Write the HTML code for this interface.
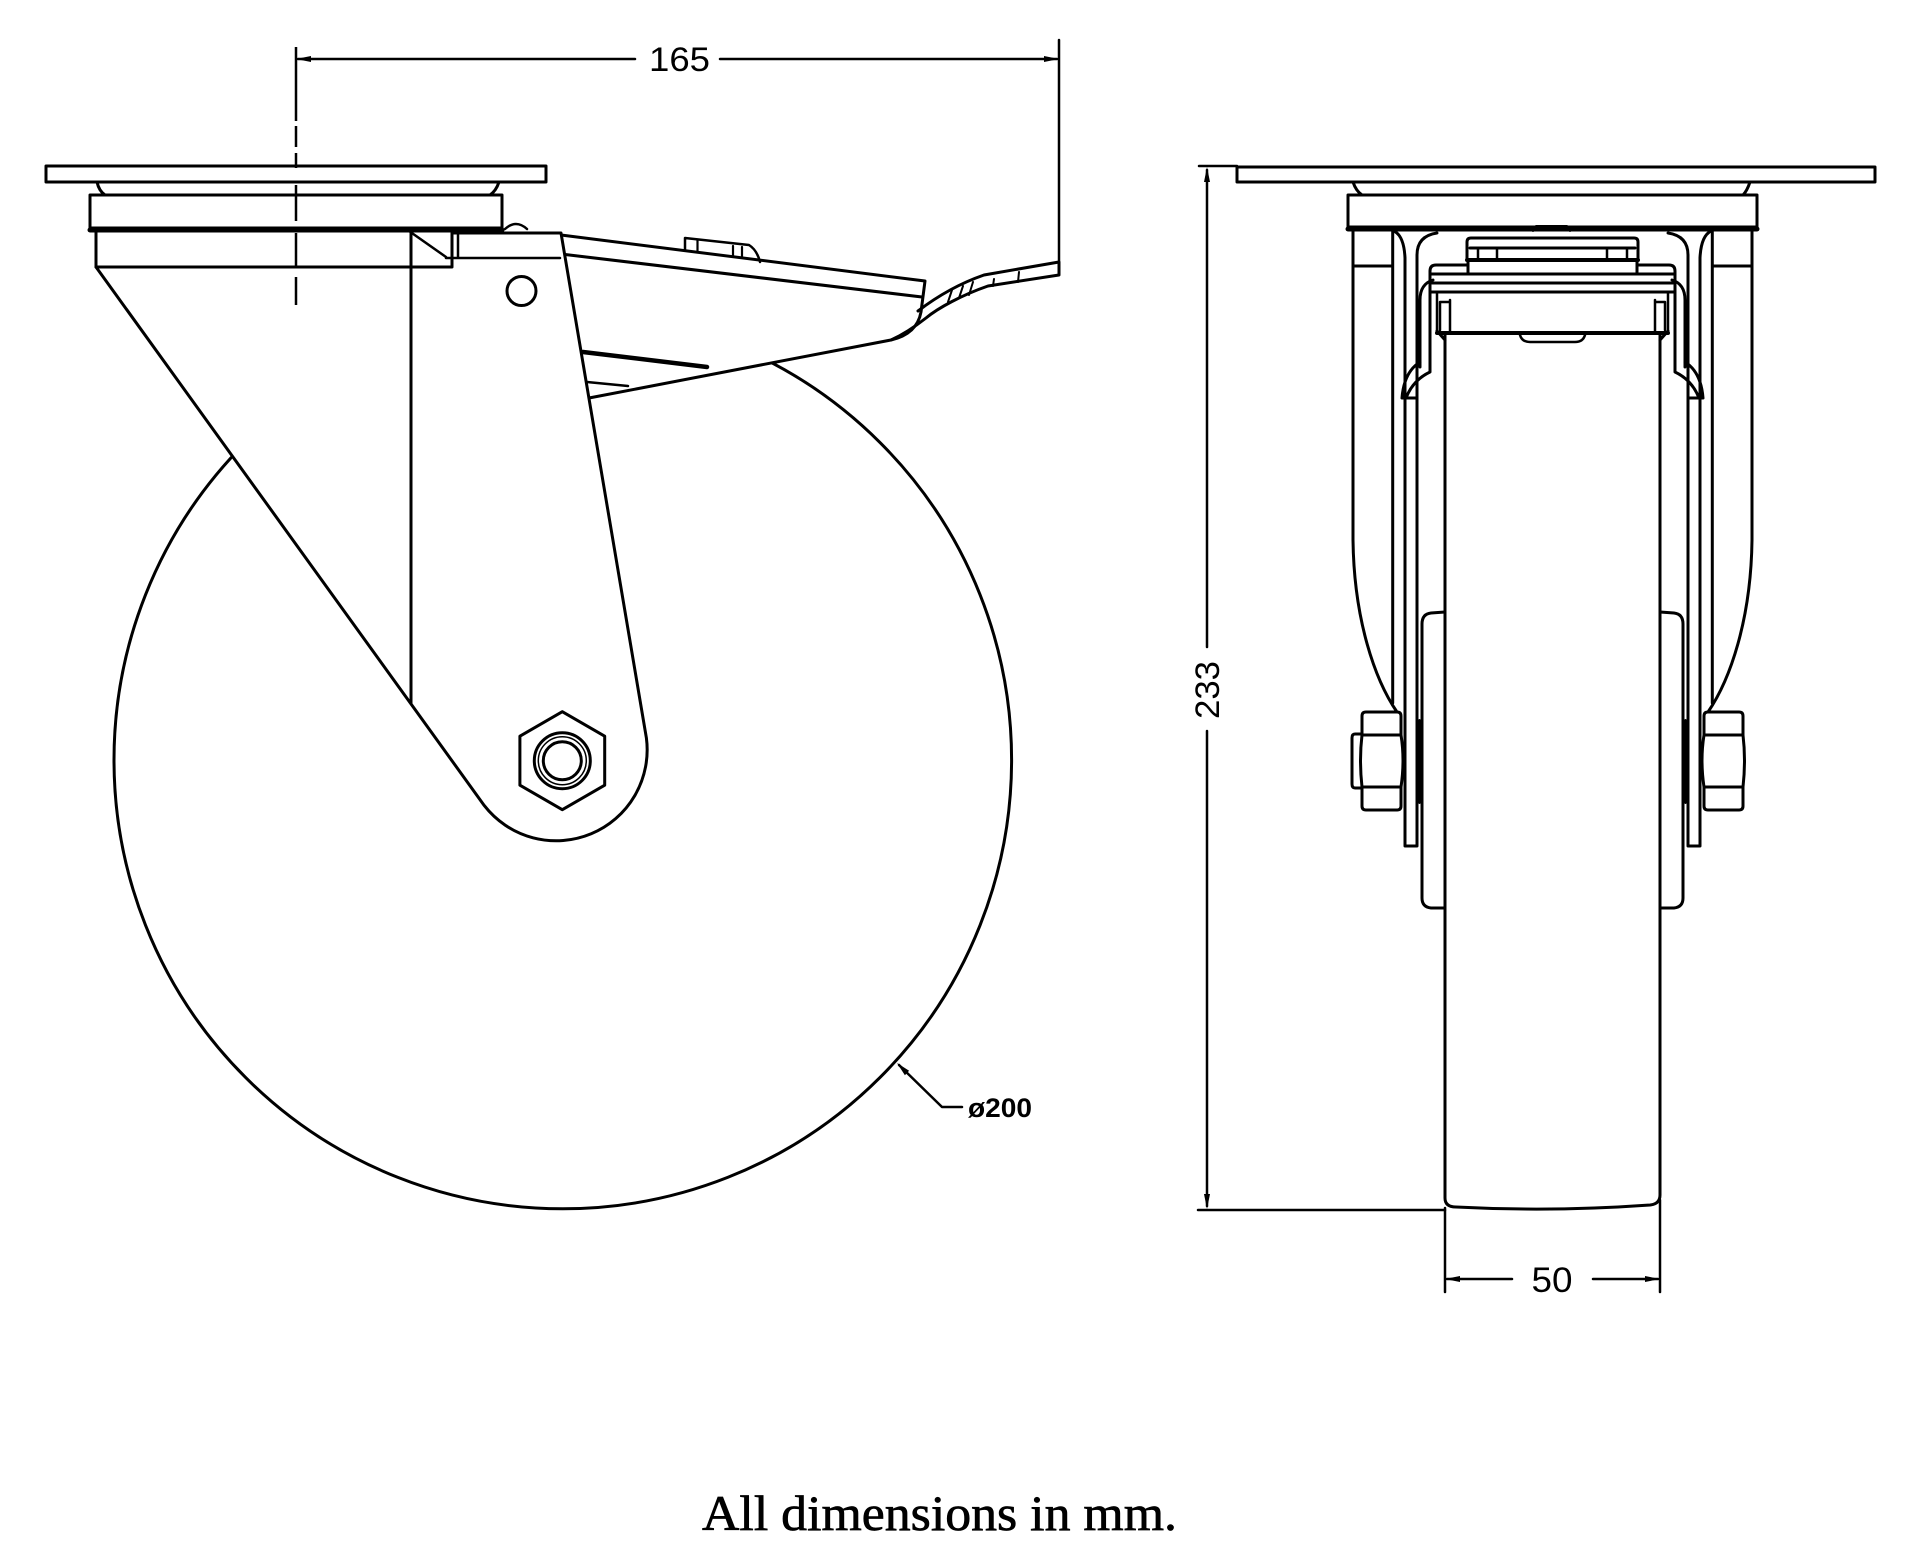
<!DOCTYPE html>
<html><head><meta charset="utf-8"><style>
html,body{margin:0;padding:0;background:#fff;}
svg{display:block;}
</style></head><body>
<svg width="1920" height="1541" viewBox="0 0 1920 1541" xmlns="http://www.w3.org/2000/svg">
<rect x="0" y="0" width="1920" height="1541" fill="#fff"/>
<g fill="none" stroke="#000" stroke-width="3" stroke-linejoin="round" stroke-linecap="round">

<!-- ================= LEFT VIEW ================= -->
<!-- wheel -->
<circle cx="562.8" cy="760" r="448.8"/>

<!-- pedal body -->
<path d="M561,235 L925,281 L921,312 Q917,334 891,340 L589,398 L560,398 Z" fill="#fff"/>
<path d="M561,254 L922,297"/>
<!-- pedal tab -->
<path d="M685,250 L685,238 L749,245 Q757,250 760,262" stroke-width="2.5"/>
<path d="M697.5,240 L697.5,251 M733,246 L733,256 M742,247 L742,257" stroke-width="2.2"/>
<!-- toe -->
<path d="M918,311 C935,298 958,284 984,275 L1059,262 L1059,275 L988,286 C962,295 938,308 926,318 C912,329 902,335 891,340"/>
<path d="M952,290 L948,302 M963,286 L959,298 M973,282 L969,295 M994,279 L993,286 M1019,272 L1018,282" stroke-width="2"/>
<!-- ribs under pedal -->
<path d="M583,352 L707,367" stroke-width="4.5"/>
<path d="M587,382 L628,386" stroke-width="2.5"/>

<!-- fork -->
<path d="M96,267 L452,267 L452,233 L561,233 L646.4,738 A91,91 0 0 1 484.3,805.6 Z" fill="#fff"/>
<line x1="411" y1="231" x2="411" y2="703"/>
<!-- notch / small parts -->
<path d="M409,231 L446,257" stroke-width="2.5"/>
<path d="M458,233 L458,258 M446,258 L560,258" stroke-width="2.5"/>
<!-- hole -->
<circle cx="521.5" cy="291" r="14.5"/>
<!-- axle nut -->
<polygon points="562.3,711.7 604.7,736.2 604.7,785.2 562.3,809.7 519.9,785.2 519.9,736.2" fill="#fff"/>
<circle cx="562.3" cy="760.7" r="28"/>
<circle cx="562.3" cy="760.7" r="24" stroke-width="1.5"/>
<circle cx="562.3" cy="760.7" r="19"/>

<!-- plate + ring -->
<rect x="46" y="166" width="500" height="16" fill="#fff"/>
<path d="M97,182 Q99,191 105,195 M499,182 Q496,191 490,195"/>
<rect x="90" y="195" width="412" height="33" fill="#fff"/>
<line x1="90" y1="230" x2="502" y2="230" stroke-width="5"/>
<path d="M96,232 L96,267"/>
<path d="M505,229 Q516,219 527,229" stroke-width="2.5"/>

<!-- centre line -->
<g stroke-width="2.5" stroke-linecap="butt">
<line x1="296" y1="47" x2="296" y2="121"/>
<line x1="296" y1="126" x2="296" y2="147"/>
<line x1="296" y1="153" x2="296" y2="168"/>
<line x1="296" y1="185" x2="296" y2="221"/>
<line x1="296" y1="233" x2="296" y2="267"/>
<line x1="296" y1="277" x2="296" y2="305"/>
</g>

<!-- dimension 165 -->
<g stroke-width="2.5">
<line x1="298" y1="59" x2="635" y2="59"/>
<line x1="720" y1="59" x2="1057" y2="59"/>
<line x1="1059" y1="40" x2="1059" y2="275"/>
</g>
<polygon points="296,59 311,56 311,62" fill="#000" stroke="none"/>
<polygon points="1059,59 1044,56 1044,62" fill="#000" stroke="none"/>

<!-- Ø200 leader -->
<path d="M899,1065 L942,1107 L962,1107" stroke-width="2.5"/>
<polygon points="897,1063 904.9,1075.2 909.1,1070.8" fill="#000" stroke="none"/>

<!-- ================= RIGHT VIEW ================= -->
<!-- tire -->
<path d="M1445,333 L1445,1198 Q1445,1207 1456,1207 Q1552,1212 1650,1205 Q1660,1204 1660,1195 L1660,333"/>
<line x1="1437" y1="333" x2="1668" y2="333" stroke-width="4"/>
<path d="M1520,335 Q1522,342 1530,342 L1575,342 Q1583,342 1585,335" stroke-width="2.5"/>

<!-- symmetric half -->
<g id="rh">
<path d="M1353,231 L1353,540 C1354,620 1375,680 1397,712"/>
<line x1="1353" y1="266" x2="1392" y2="266"/>
<line x1="1392.7" y1="231" x2="1392.7" y2="703"/>
<path d="M1394,231 Q1404,236 1405,258 L1405,846 L1417,846 L1417,255 Q1417,236 1437,233"/>
<path d="M1433,280 Q1420,284 1420,300 L1420,367"/>
<path d="M1430,292 L1430,372 Q1413,380 1406,398"/>
<path d="M1420,362 Q1404,372 1402,398 L1417,398"/>
<path d="M1437,292 L1437,333 M1450,300 L1450,333 M1440,302 L1440,330 M1440,302 L1450,302" stroke-width="2.5"/>
<path d="M1437,331 L1445,340" stroke-width="3"/>
<path d="M1445,612 L1431,613 Q1422,614 1422,624 L1422,898 Q1422,907 1431,908 L1445,908"/>
<line x1="1419.5" y1="720" x2="1419.5" y2="803" stroke-width="2"/>
<path d="M1366,712 L1397,712 Q1401,712 1401,716 L1401,735 Q1405,760 1401,787 L1401,806 Q1401,810 1397,810 L1366,810 Q1362,810 1362,806 L1362,787 Q1359,760 1362,735 L1362,716 Q1362,712 1366,712 Z" fill="#fff"/>
<path d="M1362,735 L1401,735 M1362,787 L1401,787"/>
</g>
<use href="#rh" transform="translate(3105,0) scale(-1,1)"/>
<!-- nut cap (left only) -->
<path d="M1362,734 L1355,734 Q1352,734 1352,738 L1352,784 Q1352,788 1355,788 L1362,788"/>

<!-- brake mechanism -->
<path d="M1467,260 L1467,242 Q1467,238 1471,238 L1634,238 Q1638,238 1638,242 L1638,260"/>
<path d="M1470,248 L1635,248" />
<path d="M1478,248 L1478,260 M1497,248 L1497,260 M1607,248 L1607,260 M1627,248 L1627,260" stroke-width="2.5"/>
<line x1="1467" y1="260" x2="1638" y2="260" stroke-width="4"/>
<path d="M1468,260 L1468,273 M1637,260 L1637,273"/>
<path d="M1430,292 L1430,271 Q1430,265 1436,265 L1468,265 M1637,265 L1669,265 Q1675,265 1675,271 L1675,292"/>
<path d="M1430,274 L1675,274 M1432,283 L1673,283 M1430,292 L1675,292"/>

<!-- plate + ring -->
<rect x="1237" y="167" width="638" height="15" fill="#fff"/>
<path d="M1353,182 Q1356,191 1362,195 M1750,182 Q1747,191 1743,195"/>
<rect x="1348" y="195" width="409" height="32" fill="#fff"/>
<line x1="1348" y1="229" x2="1757" y2="229" stroke-width="5"/>
<path d="M1533,231 L1536,226 L1567,226 L1570,231" stroke-width="2"/>

<!-- dimension 233 -->
<g stroke-width="2.5">
<line x1="1199" y1="166" x2="1237" y2="166"/>
<line x1="1207" y1="170" x2="1207" y2="647"/>
<line x1="1207" y1="731" x2="1207" y2="1206"/>
<line x1="1198" y1="1210" x2="1445" y2="1210"/>
</g>
<polygon points="1207,167 1204,182 1210,182" fill="#000" stroke="none"/>
<polygon points="1207,1209 1204,1194 1210,1194" fill="#000" stroke="none"/>

<!-- dimension 50 -->
<g stroke-width="2.5">
<line x1="1445" y1="1208" x2="1445" y2="1292"/>
<line x1="1660" y1="1200" x2="1660" y2="1292"/>
<line x1="1447" y1="1279" x2="1512" y2="1279"/>
<line x1="1593" y1="1279" x2="1658" y2="1279"/>
</g>
<polygon points="1445,1279 1460,1276 1460,1282" fill="#000" stroke="none"/>
<polygon points="1660,1279 1645,1276 1645,1282" fill="#000" stroke="none"/>
</g>

<!-- ================= TEXT ================= -->
<g font-family="'Liberation Sans Narrow','Liberation Sans',sans-serif" fill="#000">
<text x="679.5" y="71" font-size="34" text-anchor="middle" textLength="61" lengthAdjust="spacingAndGlyphs">165</text>
<text transform="translate(1219,690) rotate(-90)" font-size="34" text-anchor="middle" textLength="58" lengthAdjust="spacingAndGlyphs">233</text>
<text x="1552" y="1292" font-size="35" text-anchor="middle" textLength="41" lengthAdjust="spacingAndGlyphs">50</text>
</g>
<text x="968" y="1117" font-family="'Liberation Sans',sans-serif" font-weight="bold" font-size="27" textLength="64" lengthAdjust="spacingAndGlyphs" fill="#000">ø200</text>
<text x="702" y="1530" font-family="'Liberation Serif',serif" font-size="50" textLength="475" lengthAdjust="spacingAndGlyphs" fill="#000" stroke="#000" stroke-width="0.7">All dimensions in mm.</text>
</svg>
</body></html>
